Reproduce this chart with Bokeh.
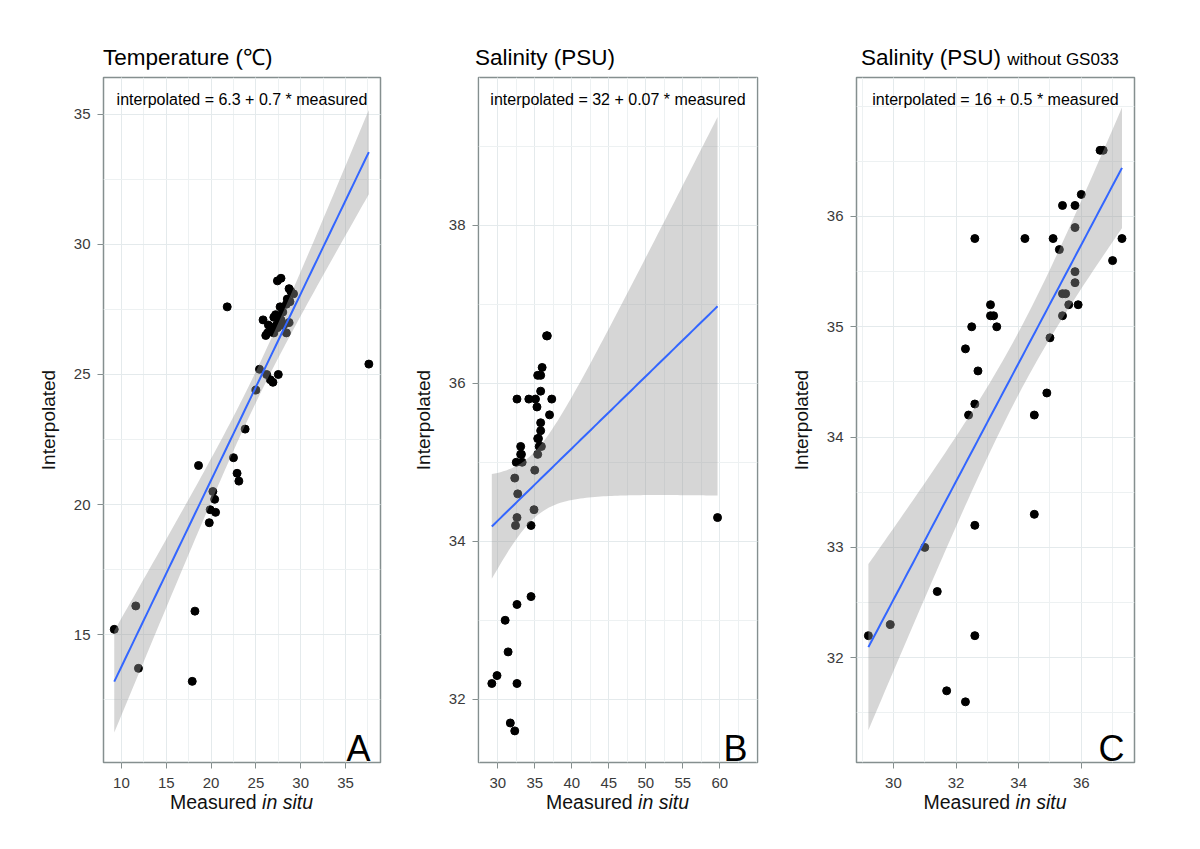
import numpy as np
from bokeh.plotting import figure
from bokeh.layouts import row, column
from bokeh.models import Label, FixedTicker, Range1d, Div
from bokeh.embed import file_html
from bokeh.resources import INLINE

# ---------------- data ----------------
temp_measured = [9.2, 11.6, 11.9, 17.9, 18.2, 18.6, 19.8, 19.9, 20.5, 20.2,
                 20.4, 22.5, 22.9, 23.1, 23.8, 25.0, 25.4, 26.2, 26.6, 26.9,
                 27.5, 21.8, 37.6, 27.4, 27.8, 28.7, 28.9, 29.2, 28.5, 28.8,
                 28.4, 27.7, 25.8, 27.0, 27.4, 27.8, 26.4, 26.8, 27.4, 27.9,
                 28.7, 28.4, 26.1, 27.0, 26.3, 27.2, 27.6, 28.0, 27.3, 28.1]
temp_interp = [15.2, 16.1, 13.7, 13.2, 15.9, 21.5, 19.3, 19.8, 19.7, 20.5,
               20.2, 21.8, 21.2, 20.9, 22.9, 24.4, 25.2, 25.0, 24.8, 24.7,
               25.0, 27.6, 25.4, 28.6, 28.7, 28.3, 28.2, 28.1, 27.9, 27.8,
               27.7, 27.6, 27.1, 27.2, 27.2, 27.1, 26.9, 26.8, 26.8, 26.9,
               27.0, 26.6, 26.5, 26.6, 26.6, 27.3, 27.0, 27.4, 26.9, 26.9]

sal_measured = [29.2, 29.9, 31.0, 31.4, 31.7, 32.3, 32.6, 32.6, 34.5, 32.4,
                32.6, 32.7, 32.3, 32.5, 33.3, 33.1, 33.2, 33.1, 32.6, 34.2,
                35.1, 37.3, 34.5, 34.9, 35.0, 35.4, 35.6, 35.9, 35.4, 35.5,
                35.8, 35.8, 37.0, 35.3, 35.8, 35.4, 35.8, 36.0, 36.6, 36.7]
sal_interp = [32.2, 32.3, 33.0, 32.6, 31.7, 31.6, 32.2, 33.2, 33.3, 34.2,
              34.3, 34.6, 34.8, 35.0, 35.0, 35.1, 35.1, 35.2, 35.8, 35.8,
              35.8, 35.8, 34.2, 34.4, 34.9, 35.1, 35.2, 35.2, 35.3, 35.3,
              35.4, 35.5, 35.6, 35.7, 35.9, 36.1, 36.1, 36.2, 36.6, 36.6]
gs033_measured = [59.7]
gs033_interp = [34.3]

titles = ["Temperature (\u2103)", "Salinity (PSU)", "Salinity (PSU)"]
subtitles = ["", "", "without GS033"]
equations = ["interpolated = 6.3 + 0.7 * measured",
             "interpolated = 32 + 0.07 * measured",
             "interpolated = 16 + 0.5 * measured"]
letters = ["A", "B", "C"]
x_label_main = "Measured"
x_label_italic = "in situ"
y_label = "Interpolated"

a_xticks = [10, 15, 20, 25, 30, 35]
a_yticks = [15, 20, 25, 30, 35]
b_xticks = [30, 35, 40, 45, 50, 55, 60]
b_yticks = [32, 34, 36, 38]
c_xticks = [30, 32, 34, 36]
c_yticks = [32, 33, 34, 35, 36]

FONT = "Liberation Sans"
FH = 685
TOP_DIV = 69
BORDER_TOP = 8
BORDER_BOTTOM = 30


def t975(df):
    z = 1.959963985
    return (z + (z**3 + z) / (4 * df) + (5 * z**5 + 16 * z**3 + 3 * z) / (96 * df**2)
            + (3 * z**7 + 19 * z**5 + 17 * z**3 - 15 * z) / (384 * df**3))


def lm_band(x, y, n=80):
    x = np.asarray(x, float)
    y = np.asarray(y, float)
    N = len(x)
    b, a = np.polyfit(x, y, 1)
    xs = np.linspace(x.min(), x.max(), n)
    fit = a + b * xs
    resid = y - (a + b * x)
    s = np.sqrt(np.sum(resid ** 2) / (N - 2))
    sxx = np.sum((x - x.mean()) ** 2)
    se = s * np.sqrt(1.0 / N + (xs - x.mean()) ** 2 / sxx)
    t = t975(N - 2)
    return xs, fit, fit - t * se, fit + t * se


def minor_of(ticks):
    step = ticks[1] - ticks[0]
    lo = ticks[0] - 2 * step
    return [lo + k * step / 2 for k in range(2 * (len(ticks) + 4))]


def panel(xv, yv, xr, yr, xt, yt, fw, bl, br, title, subtitle, eq, letter, tx):
    p = figure(frame_width=fw, frame_height=FH, x_range=Range1d(*xr), y_range=Range1d(*yr),
               output_backend="svg", toolbar_location=None,
               min_border_left=bl, min_border_right=br,
               min_border_top=BORDER_TOP, min_border_bottom=BORDER_BOTTOM,
               background_fill_color="white", border_fill_color="white")
    p.outline_line_color = "#858f8f"
    p.outline_line_width = 1.5
    p.xaxis.ticker = FixedTicker(ticks=xt, minor_ticks=minor_of(xt))
    p.yaxis.ticker = FixedTicker(ticks=yt, minor_ticks=minor_of(yt))
    for ax in (p.xaxis, p.yaxis):
        ax.axis_line_color = None
        ax.major_tick_line_color = "#858f8f"
        ax.major_tick_line_width = 1
        ax.major_tick_in = 0
        ax.major_tick_out = 6
        ax.minor_tick_line_color = None
        ax.major_label_text_font = FONT
        ax.major_label_text_font_size = "15px"
        ax.major_label_text_color = "#3a3a3a"
    p.xaxis.major_label_standoff = 9
    p.yaxis.major_label_standoff = 7
    p.yaxis.axis_label = y_label
    p.yaxis.axis_label_text_font = FONT
    p.yaxis.axis_label_text_font_size = "19px"
    p.yaxis.axis_label_text_font_style = "normal"
    p.yaxis.axis_label_text_color = "#111111"
    p.yaxis.axis_label_standoff = 12
    for g in (p.xgrid, p.ygrid):
        g.grid_line_color = "#e4eaec"
        g.grid_line_width = 1
        g.minor_grid_line_color = "#edf1f2"
        g.minor_grid_line_width = 1

    p.scatter(xv, yv, size=8, color="black")
    xs, fit, lo, hi = lm_band(xv, yv)
    p.varea(x=xs, y1=lo, y2=hi, fill_color="#999999", fill_alpha=0.4)
    p.line(xs, fit, line_color="#3366FF", line_width=2)

    p.add_layout(Label(x=fw / 2, y=FH - 22, x_units="screen", y_units="screen", text=eq,
                       text_font=FONT, text_font_size="16px", text_color="black",
                       text_align="center", text_baseline="middle"))
    p.add_layout(Label(x=fw - 10, y=14, x_units="screen", y_units="screen", text=letter,
                       text_font=FONT, text_font_size="36px", text_color="black",
                       text_align="right", text_baseline="alphabetic"))

    total_w = bl + fw + br
    sub_html = (f" <span style=\"font-size:17px;\">{subtitle}</span>" if subtitle else "")
    title_div = Div(
        text=(f"<div style=\"padding-left:{tx}px; padding-top:47px; font-family:'{FONT}';"
              f" font-size:22.5px; line-height:22px; white-space:nowrap; color:#000;\">"
              f"{title}{sub_html}</div>"),
        width=total_w, height=TOP_DIV, margin=0)
    xlab_div = Div(
        text=(f"<div style=\"margin-left:{bl}px; width:{fw}px; text-align:center; padding-top:1px;"
              f" font-family:'{FONT}'; font-size:19.5px; line-height:19px; white-space:nowrap;"
              f" color:#111;\">{x_label_main} <i>{x_label_italic}</i></div>"),
        width=total_w, height=40, margin=0)
    return column(title_div, p, xlab_div, spacing=0)


pA = panel(temp_measured, temp_interp, (8.0, 38.9), (10.08, 36.42), a_xticks, a_yticks,
           277, 103, 20, titles[0], subtitles[0], equations[0], letters[0], tx=103)
pB = panel(sal_measured + gs033_measured, sal_interp + gs033_interp, (27.4, 65.1), (31.2, 39.87),
           b_xticks, b_yticks, 279, 78, 21, titles[1], subtitles[1], equations[1], letters[1], tx=75)
pC = panel(sal_measured, sal_interp, (28.82, 37.7), (31.05, 37.26), c_xticks, c_yticks,
           278, 78, 40, titles[2], subtitles[2], equations[2], letters[2], tx=83)

layout = row(pA, pB, pC, spacing=0)
open("out.html", "w").write(file_html(layout, INLINE))
